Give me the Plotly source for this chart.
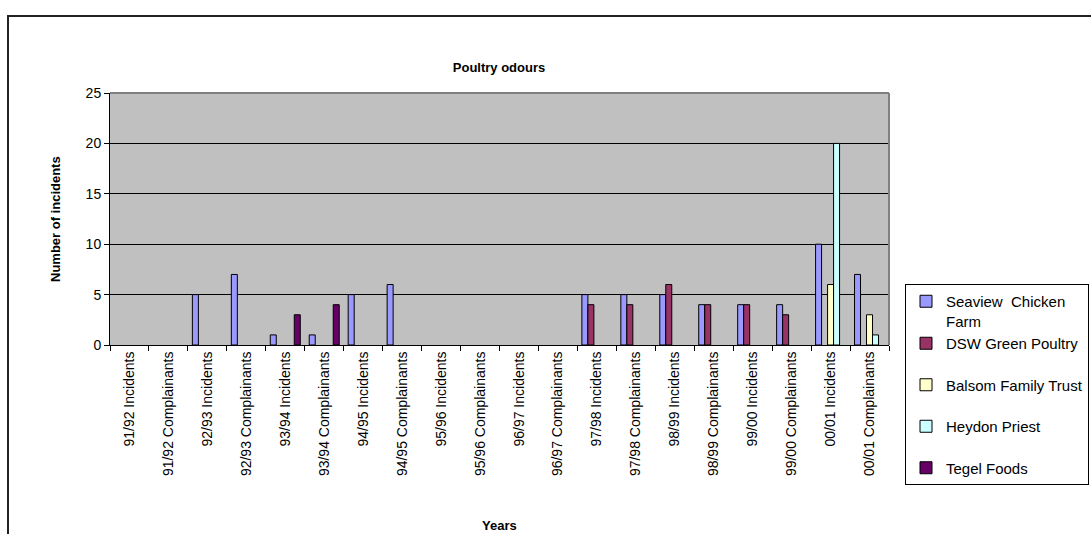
import plotly.graph_objects as go

# Categories along the x axis
categories = [
    "91/92 Incidents", "91/92 Complainants",
    "92/93 Incidents", "92/93 Complainants",
    "93/94 Incidents", "93/94 Complainants",
    "94/95 Incidents", "94/95 Complainants",
    "95/96 Incidents", "95/96 Complainants",
    "96/97 Incidents", "96/97 Complainants",
    "97/98 Incidents", "97/98 Complainants",
    "98/99 Incidents", "98/99 Complainants",
    "99/00 Incidents", "99/00 Complainants",
    "00/01 Incidents", "00/01 Complainants",
]

# Counts per source (None = no value recorded)
seaview = [None, None, 5, 7, 1, 1, 5, 6, None, None, None, None, 5, 5, 5, 4, 4, 4, 10, 7]
dsw_green = [None] * 12 + [4, 4, 6, 4, 4, 3, None, None]
balsom = [None] * 18 + [6, 3]
heydon = [None] * 18 + [20, 1]
tegel = [None, None, None, None, 3, 4] + [None] * 14

y_ticks = [0, 5, 10, 15, 20, 25]

series = [
    ("Seaview  Chicken<br>Farm", seaview, "#9999FF", "g1"),
    ("DSW Green Poultry", dsw_green, "#993366", "g1"),
    ("Balsom Family Trust", balsom, "#FFFFCC", "g2"),
    ("Heydon Priest", heydon, "#CCFFFF", "g3"),
    ("Tegel Foods", tegel, "#660066", "g4"),
]

W, H = 1091, 534
L, R, T, B = 110, 889, 93, 345  # plot area in pixels


def px_x(px):
    return (px - L) / (R - L)


def px_y(py):
    return (B - py) / (B - T)


fig = go.Figure()
for name, vals, color, grp in series:
    fig.add_trace(go.Bar(
        x=categories, y=vals, name=name, legendgroup=grp,
        marker=dict(color=color, line=dict(color="black", width=1)),
    ))

font = "Liberation Sans, Arial, sans-serif"

fig.update_layout(
    width=W, height=H,
    margin=dict(l=L, r=W - R, t=T, b=H - B, autoexpand=False),
    paper_bgcolor="white",
    plot_bgcolor="#C0C0C0",
    barmode="group",
    bargap=0.23,
    bargroupgap=0,
    font=dict(family=font, color="black"),
    title=dict(text="<b>Poultry odours</b>", x=px_x(499), xref="paper",
               y=1 - 67 / H, yref="container", xanchor="center", yanchor="middle",
               font=dict(size=13, family=font)),
    showlegend=True,
    legend=dict(
        x=px_x(905), y=px_y(284), xanchor="left", yanchor="top",
        xref="paper", yref="paper",
        bgcolor="white", bordercolor="black", borderwidth=1,
        font=dict(size=15, family=font),
        traceorder="grouped", tracegroupgap=19, valign="top",
    ),
    xaxis=dict(
        type="category", tickangle=-90, tickson="boundaries",
        ticks="outside", ticklen=5, tickcolor="black",
        showline=True, linecolor="black", linewidth=1,
        showgrid=False, tickfont=dict(size=14),
    ),
    yaxis=dict(
        range=[0, 25], tickvals=y_ticks,
        ticks="outside", ticklen=5, tickcolor="black",
        showline=True, linecolor="black", linewidth=1,
        showgrid=True, gridcolor="black", gridwidth=1,
        zeroline=False, tickfont=dict(size=14),
    ),
    shapes=[
        # chart frame
        dict(type="rect", xref="paper", yref="paper",
             x0=px_x(8), x1=px_x(1110), y0=px_y(600), y1=px_y(16),
             line=dict(color="#222222", width=2), layer="below"),
        # plot-area border
        dict(type="line", xref="paper", yref="paper",
             x0=0, x1=1, y0=1, y1=1, line=dict(color="#808080", width=2)),
        dict(type="line", xref="paper", yref="paper",
             x0=1, x1=1, y0=0, y1=1, line=dict(color="#808080", width=2)),
    ],
    annotations=[
        dict(text="<b>Number of incidents</b>", xref="paper", yref="paper",
             x=px_x(55), y=px_y(219), textangle=-90, showarrow=False,
             xanchor="center", yanchor="middle", font=dict(size=13)),
        dict(text="<b>Years</b>", xref="paper", yref="paper",
             x=px_x(499), y=px_y(525), showarrow=False,
             xanchor="center", yanchor="middle", font=dict(size=13)),
    ],
)

fig.write_html("out.html")
